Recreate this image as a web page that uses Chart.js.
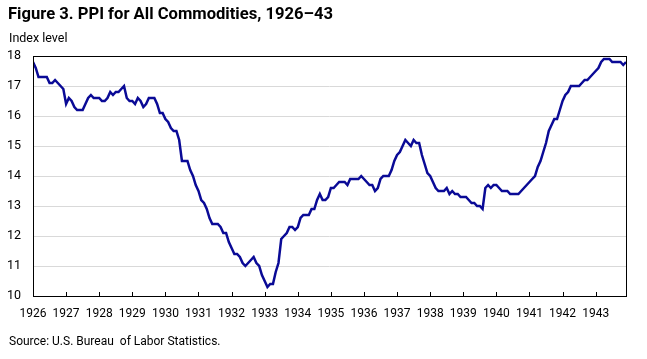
<!DOCTYPE html>
<html>
<head>
<meta charset="utf-8">
<script src="https://cdn.jsdelivr.net/npm/chart.js@4.4.1/dist/chart.umd.min.js"></script>
<style>
  html, body { margin: 0; padding: 0; background: #ffffff; }
  #wrap { position: relative; width: 647px; height: 359px; overflow: hidden; }
  #chart { position: absolute; left: 0; top: 0; }
  .txt { position: absolute; white-space: nowrap; color: #000; font-family: "Roboto", sans-serif; }
  #title { left: 8px; top: 4px; font-size: 16.6px; font-weight: bold; }
  #ylab { left: 9px; top: 30px; font-size: 12.5px; }
  #source { left: 9px; top: 334px; font-size: 12px; }
</style>
</head>
<body>
<div id="wrap">
  <canvas id="chart" width="647" height="359"></canvas>
  <div class="txt" id="title">Figure 3. PPI for All Commodities, 1926–43</div>
  <div class="txt" id="ylab">Index level</div>
  <div class="txt" id="source">Source: U.S. Bureau &nbsp;of Labor Statistics.</div>
</div>
<script>
// Tick labels (one per January)
const years = [1926, 1927, 1928, 1929, 1930, 1931, 1932, 1933, 1934,
               1935, 1936, 1937, 1938, 1939, 1940, 1941, 1942, 1943];

// Monthly PPI values (index level), by year
const ppi1926 = [17.8, 17.6, 17.3, 17.3, 17.3, 17.3, 17.1, 17.1, 17.2, 17.1, 17.0, 16.9];
const ppi1927 = [16.4, 16.6, 16.5, 16.3, 16.2, 16.2, 16.2, 16.4, 16.6, 16.7, 16.6, 16.6];
const ppi1928 = [16.6, 16.5, 16.5, 16.6, 16.8, 16.7, 16.8, 16.8, 16.9, 17.0, 16.6, 16.5];
const ppi1929 = [16.5, 16.4, 16.6, 16.5, 16.3, 16.4, 16.6, 16.6, 16.6, 16.4, 16.1, 16.1];
const ppi1930 = [15.9, 15.8, 15.6, 15.5, 15.5, 15.2, 14.5, 14.5, 14.5, 14.2, 14.0, 13.7];
const ppi1931 = [13.5, 13.2, 13.1, 12.9, 12.6, 12.4, 12.4, 12.4, 12.3, 12.1, 12.1, 11.8];
const ppi1932 = [11.6, 11.4, 11.4, 11.3, 11.1, 11.0, 11.1, 11.2, 11.3, 11.1, 11.0, 10.7];
const ppi1933 = [10.5, 10.3, 10.4, 10.4, 10.8, 11.1, 11.9, 12.0, 12.1, 12.3, 12.3, 12.2];
const ppi1934 = [12.3, 12.6, 12.7, 12.7, 12.7, 12.9, 12.9, 13.2, 13.4, 13.2, 13.2, 13.3];
const ppi1935 = [13.6, 13.6, 13.7, 13.8, 13.8, 13.8, 13.7, 13.9, 13.9, 13.9, 13.9, 14.0];
const ppi1936 = [13.9, 13.8, 13.7, 13.7, 13.5, 13.6, 13.9, 14.0, 14.0, 14.0, 14.2, 14.5];
const ppi1937 = [14.7, 14.8, 15.0, 15.2, 15.1, 15.0, 15.2, 15.1, 15.1, 14.7, 14.4, 14.1];
const ppi1938 = [14.0, 13.8, 13.6, 13.5, 13.5, 13.5, 13.6, 13.4, 13.5, 13.4, 13.4, 13.3];
const ppi1939 = [13.3, 13.3, 13.2, 13.1, 13.1, 13.0, 13.0, 12.9, 13.6, 13.7, 13.6, 13.7];
const ppi1940 = [13.7, 13.6, 13.5, 13.5, 13.5, 13.4, 13.4, 13.4, 13.4, 13.5, 13.6, 13.7];
const ppi1941 = [13.8, 13.9, 14.0, 14.3, 14.5, 14.8, 15.1, 15.5, 15.7, 15.9, 15.9, 16.2];
const ppi1942 = [16.5, 16.7, 16.8, 17.0, 17.0, 17.0, 17.0, 17.1, 17.2, 17.2, 17.3, 17.4];
const ppi1943 = [17.5, 17.6, 17.8, 17.9, 17.9, 17.9, 17.8, 17.8, 17.8, 17.8, 17.7, 17.8];

// Y-axis tick range
const yMin = 10, yMax = 18, yStep = 1;

const ppi = [].concat(ppi1926, ppi1927, ppi1928, ppi1929, ppi1930, ppi1931,
  ppi1932, ppi1933, ppi1934, ppi1935, ppi1936, ppi1937, ppi1938, ppi1939,
  ppi1940, ppi1941, ppi1942, ppi1943);
const points = ppi.map((v, i) => ({ x: i, y: v }));

const frame = {
  id: 'frame',
  afterDraw(chart) {
    const { ctx, chartArea: a } = chart;
    const xs = chart.scales.x;
    ctx.save();
    ctx.strokeStyle = '#000';
    ctx.lineWidth = 1;
    ctx.strokeRect(Math.round(a.left) + 0.5, Math.round(a.top) + 0.5,
                   Math.round(a.right - a.left), Math.round(a.bottom - a.top));
    ctx.beginPath();
    xs.ticks.forEach(t => {
      const px = Math.round(xs.getPixelForValue(t.value)) + 0.5;
      ctx.moveTo(px, a.bottom);
      ctx.lineTo(px, a.bottom - 4);
    });
    ctx.stroke();
    ctx.restore();
  }
};

const tickFont = { family: '"Roboto", sans-serif', size: 12 };

new Chart(document.getElementById('chart'), {
  type: 'line',
  data: {
    datasets: [{
      data: points,
      borderColor: '#0a0a96',
      borderWidth: 2.5,
      pointRadius: 0,
      tension: 0,
      fill: false
    }]
  },
  options: {
    responsive: false,
    animation: false,
    events: [],
    layout: { padding: { top: 56, right: 21, left: 0, bottom: 0 } },
    plugins: { legend: { display: false }, tooltip: { enabled: false } },
    scales: {
      x: {
        type: 'linear',
        min: 0,
        max: ppi.length - 1,
        afterFit(s) { s.height = 63; },
        afterBuildTicks(s) { s.ticks = years.map((y, k) => ({ value: k * 12 })); },
        grid: { display: false, drawTicks: false },
        border: { display: false },
        ticks: {
          autoSkip: false,
          maxRotation: 0,
          padding: 11,
          color: '#000',
          font: tickFont,
          callback: (v) => String(years[Math.round(v / 12)])
        }
      },
      y: {
        min: yMin,
        max: yMax,
        afterFit(s) { s.width = 33; },
        grid: { color: '#d9d9d9', lineWidth: 1, drawTicks: false },
        border: { display: false },
        ticks: {
          stepSize: yStep,
          padding: 12,
          color: '#000',
          font: { family: '"Roboto", sans-serif', size: 12.5 }
        }
      }
    }
  },
  plugins: [frame]
});
</script>
</body>
</html>
